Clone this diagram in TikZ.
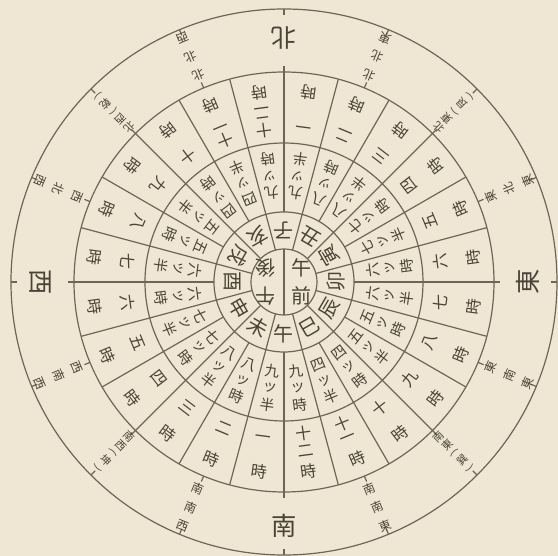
\documentclass[tikz,border=0pt]{standalone}
\usepackage{fontspec}
\setmainfont{Noto Sans CJK JP}
\definecolor{paper}{HTML}{EFE6D3}
\definecolor{ink}{HTML}{4B4436}
\definecolor{rim}{HTML}{6E6555}

\begin{document}
\begin{tikzpicture}[x=0.75pt, y=0.75pt,
    rim/.style={draw=rim, line width=0.9pt},
    glyph/.style={text=ink, inner sep=0pt, font=\fontsize{#1}{#1}\selectfont},
    glyph/.default=11
]

\fill[paper] (-284,-274) rectangle (274,282);
\useasboundingbox (-284,-274) rectangle (274,282);

% rings
\foreach \r in {33,70,139,210,273}
  \draw[rim] (0,0) circle[radius=\r];

% sector lines, every 15 degrees
\foreach \i in {0,...,23}
  \draw[rim] (90-15*\i:70) -- (90-15*\i:210);
\foreach \i in {0,...,11}
  \draw[rim] (75-30*\i:33) -- (75-30*\i:70);
\draw[rim] (90:33) -- (-90:33);

% compass ticks
\foreach \j in {0,...,15} {
  \draw[rim] (90-22.5*\j:210) -- (90-22.5*\j:216);
  \draw[rim] (90-22.5*\j:273) -- (90-22.5*\j:267);
}

% centre
\node[glyph=15] (am-1) at (18,14) {午};
\node[glyph=15] (am-2) at (18,-14) {前};
\node[glyph=15, rotate=180] (pm-1) at (-18,-14) {午};
\node[glyph=15, rotate=180] (pm-2) at (-18,14) {後};

% twelve branches
\foreach \z [count=\i from 0] in {子,丑,寅,卯,辰,巳,午,未,申,酉,戌,亥}
  \node[glyph=15, rotate={180-30*\i}] (eto-\i) at ({90-30*\i}:52) {\z};

% old hours
\foreach \h in {0,12}
  \foreach \c/\e [count=\k from 0] in {九/半,八/時,八/半,七/時,七/半,六/時,六/半,五/時,五/半,四/時,四/半,九/時} {
    \node[glyph=11, rotate={172.5-15*(\k+\h)}] (old-\h-\k-a) at ({82.5-15*(\k+\h)}:90) {\c};
    \node[glyph=11, rotate={172.5-15*(\k+\h)}] (old-\h-\k-b) at ({82.5-15*(\k+\h)}:107) {ッ};
    \node[glyph=11, rotate={172.5-15*(\k+\h)}] (old-\h-\k-c) at ({82.5-15*(\k+\h)}:124) {\e};
  }

% new hours
\foreach \h in {0,12}
  \foreach \k/\c/\r in {0/一/158,1/二/158,2/三/158,3/四/158,4/五/158,5/六/158,6/七/158,
      7/八/158,8/九/158,9/十/158,10/十/153,10/一/170,11/十/153,11/二/170}
    \node[glyph=12, rotate={172.5-15*(\k+\h)}] (num-\h-\k-\r) at ({82.5-15*(\k+\h)}:\r) {\c};
\foreach \s in {0,...,23}
  \node[glyph=12, rotate={172.5-15*\s}] (ji-\s) at ({82.5-15*\s}:191) {時};

% directions
\foreach \d [count=\i from 0] in {北,東,南,西}
  \node[glyph=19, rotate={180-90*\i}] (dir-\i) at ({90-90*\i}:244) {\d};
\foreach \a/\b/\c [count=\j] in {北/北/東,東/北/東,東/南/東,南/南/東,南/南/西,西/南/西,西/北/西,北/北/西} {
  \node[glyph=9, rotate={202.5-45*\j}] (pt-\j-a) at ({112.5-45*\j}:224) {\a};
  \node[glyph=9, rotate={202.5-45*\j}] (pt-\j-b) at ({112.5-45*\j}:244) {\b};
  \node[glyph=9, rotate={202.5-45*\j}] (pt-\j-c) at ({112.5-45*\j}:264) {\c};
}
\foreach \a/\b/\g [count=\j] in {北/東/艮,南/東/巽,南/西/坤,北/西/乾} {
  \node[glyph=8, rotate={225-90*\j}] (ic-\j-a) at ({135-90*\j}:219) {\a};
  \node[glyph=8, rotate={225-90*\j}] (ic-\j-b) at ({135-90*\j}:231) {\b};
  \node[glyph=8, rotate={135-90*\j}] (ic-\j-l) at ({135-90*\j}:241) {(};
  \node[glyph=8, rotate={225-90*\j}] (ic-\j-g) at ({135-90*\j}:252) {\g};
  \node[glyph=8, rotate={135-90*\j}] (ic-\j-r) at ({135-90*\j}:263) {)};
}

\end{tikzpicture}
\end{document}
